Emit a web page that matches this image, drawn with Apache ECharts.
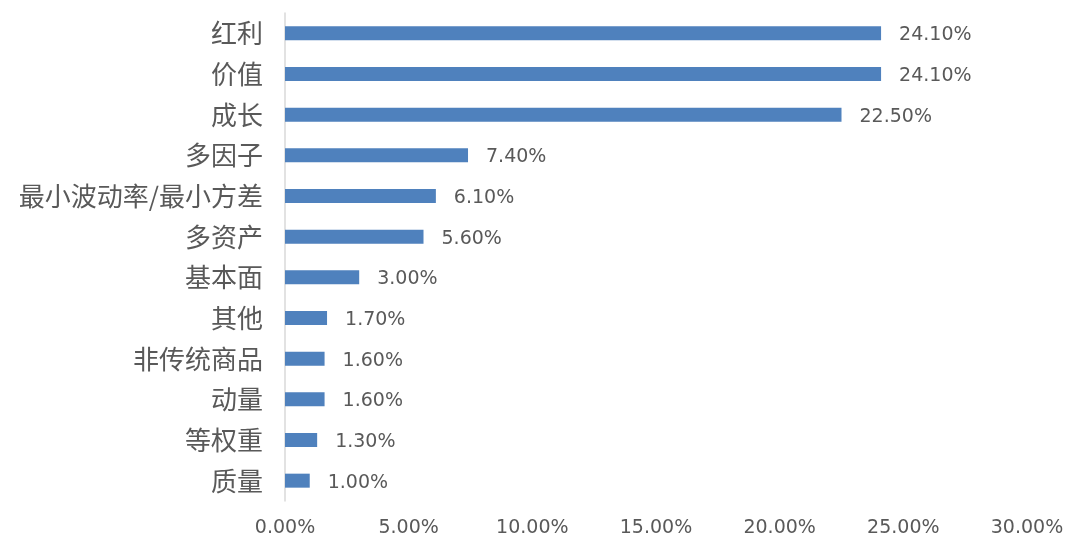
<!DOCTYPE html>
<html>
<head>
<meta charset="utf-8">
<script src="https://cdn.jsdelivr.net/npm/echarts@6/dist/echarts.min.js"></script>
<style>html,body{margin:0;padding:0;background:#fff;}#c{width:1080px;height:552px;}</style>
</head>
<body>
<div id="c"></div>
<script>
const categories = ['红利','价值','成长','多因子','最小波动率/最小方差','多资产','基本面','其他','非传统商品','动量','等权重','质量'];
const values = [24.1, 24.1, 22.5, 7.4, 6.1, 5.6, 3.0, 1.7, 1.6, 1.6, 1.3, 1.0];
const xTicks = [0, 5, 10, 15, 20, 25, 30];

const chart = echarts.init(document.getElementById('c'));
chart.setOption({
  animation: false,
  grid: { left: 285, right: 53, top: 13, bottom: 51, containLabel: false },
  xAxis: {
    type: 'value', min: xTicks[0], max: xTicks[xTicks.length - 1], interval: 5,
    axisLine: { show: false }, axisTick: { show: false }, splitLine: { show: false },
    axisLabel: {
      color: '#595959', fontSize: 19, fontFamily: 'DejaVu Sans', margin: 18,
      formatter: v => v.toFixed(2) + '%'
    }
  },
  yAxis: {
    type: 'category', data: categories, inverse: true,
    axisLine: { show: true, lineStyle: { color: '#D9D9D9', width: 1.5 } },
    axisTick: { show: false },
    axisLabel: { color: '#595959', fontSize: 26, fontFamily: 'Noto Sans CJK SC', margin: 22 }
  },
  series: [{
    type: 'bar', data: values, barWidth: 14,
    itemStyle: { color: '#4F81BD' },
    label: {
      show: true, position: 'right', distance: 18, color: '#595959',
      fontSize: 19, fontFamily: 'DejaVu Sans', offset: [0, 2],
      formatter: p => p.value.toFixed(2) + '%'
    }
  }]
});
</script>
</body>
</html>
